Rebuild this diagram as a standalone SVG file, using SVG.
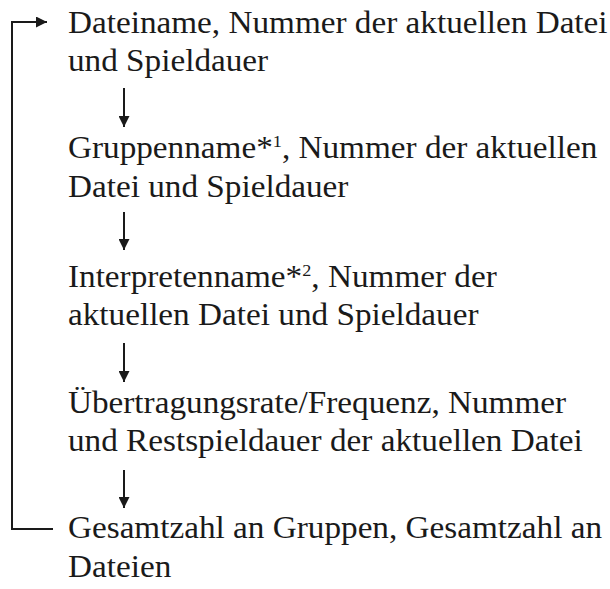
<svg xmlns="http://www.w3.org/2000/svg" width="610" height="589" viewBox="0 0 610 589">
<defs>
<marker id="ah" viewBox="0 0 10 10" refX="10" refY="5" markerWidth="11" markerHeight="11" markerUnits="userSpaceOnUse" orient="auto">
<path d="M0,0 L10,5 L0,10 Z" fill="#1a1a1a"/>
</marker>
</defs>
<style>
text{font-family:"Liberation Serif","Times New Roman",serif;font-size:31px;fill:#1a1a1a}
.sup{font-size:17px}
.c{fill:none;stroke:#1a1a1a;stroke-width:2}
.n{transform:scale(1.072,1)}
</style>
<rect width="610" height="589" fill="#fff"/>
<g id="connectors">
<path class="c" d="M53,529 H12 V22 H47" marker-end="url(#ah)"/>
<line class="c" x1="124" y1="88" x2="124" y2="127" marker-end="url(#ah)"/>
<line class="c" x1="124" y1="212" x2="124" y2="250" marker-end="url(#ah)"/>
<line class="c" x1="124" y1="343" x2="124" y2="382" marker-end="url(#ah)"/>
<line class="c" x1="124" y1="470" x2="124" y2="508" marker-end="url(#ah)"/>
</g>
<g id="n1" class="n"><text x="63.4" y="33">Dateiname, Nummer der aktuellen Datei</text><text x="63.4" y="71">und Spieldauer</text></g>
<g id="n2" class="n"><text x="63.4" y="158">Gruppenname*<tspan class="sup" dy="-11">1</tspan><tspan dy="11">, Nummer der aktuellen</tspan></text><text x="63.4" y="197">Datei und Spieldauer</text></g>
<g id="n3" class="n"><text x="63.4" y="287">Interpretenname*<tspan class="sup" dy="-11">2</tspan><tspan dy="11">, Nummer der</tspan></text><text x="63.4" y="325">aktuellen Datei und Spieldauer</text></g>
<g id="n4" class="n"><text x="63.4" y="413">Übertragungsrate/Frequenz, Nummer</text><text x="63.4" y="451">und Restspieldauer der aktuellen Datei</text></g>
<g id="n5" class="n"><text x="63.4" y="538">Gesamtzahl an Gruppen, Gesamtzahl an</text><text x="63.4" y="577">Dateien</text></g>
</svg>
